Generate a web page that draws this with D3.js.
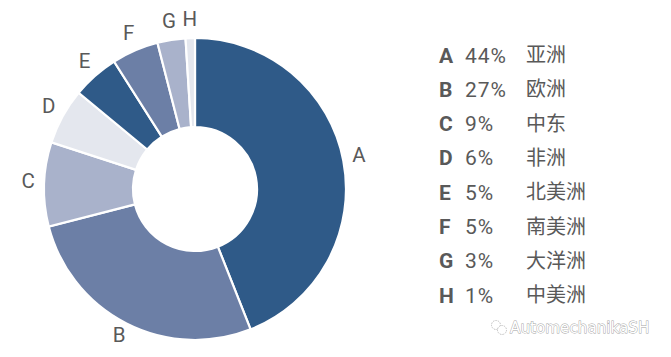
<!DOCTYPE html>
<html><head><meta charset="utf-8">
<script src="https://cdn.jsdelivr.net/npm/d3@7"></script>
<style>
html,body{margin:0;padding:0;background:#fff;}
svg{display:block;}
</style></head>
<body>
<svg id="chart" width="671" height="357"></svg>
<script>
const categories = ["A","B","C","D","E","F","G","H"];
const values = [44,27,9,6,5,5,3,1];
const percentLabels = ["44%","27%","9%","6%","5%","5%","3%","1%"];
const regionNames = ["亚洲","欧洲","中东","非洲","北美洲","南美洲","大洋洲","中美洲"];
const palette = ["#2F5A88","#6C7FA6","#A9B2CB","#E4E7EE"];
const watermark = "AutomechanikaSH";

const svg = d3.select("#chart");
const cx = 195, cy = 189, R = 151, r = 62;

const color = d3.scaleOrdinal().domain(categories).range(palette);
const pie = d3.pie().sort(null).value(d => d.v);
const data = categories.map((c,i) => ({c, v: values[i]}));
const arcs = pie(data);
const arc = d3.arc().innerRadius(r).outerRadius(R);
const labelArc = d3.arc().innerRadius(167).outerRadius(167);

const g = svg.append("g").attr("transform", `translate(${cx},${cy})`);
g.selectAll("path").data(arcs).join("path")
  .attr("d", arc)
  .attr("fill", d => color(d.data.c))
  .attr("stroke", "#fff")
  .attr("stroke-width", 2.2)
  .attr("stroke-linejoin", "miter");

g.selectAll("text.lbl").data(arcs).join("text")
  .attr("class","lbl")
  .attr("x", d => labelArc.centroid(d)[0])
  .attr("y", d => labelArc.centroid(d)[1])
  .attr("dy", "0.2em")
  .attr("text-anchor","middle")
  .attr("font-family","Roboto, 'Noto Sans', sans-serif")
  .attr("font-size", 20.5)
  .attr("fill","#595959")
  .text(d => d.data.c);

// legend
const ly = d3.scalePoint().domain(categories).range([55, 295]);
const leg = svg.append("g");
const rows = leg.selectAll("g").data(categories).join("g")
  .attr("transform", d => `translate(0,${ly(d)})`);
rows.append("text")
  .attr("x", 439).attr("dy","0.36em")
  .attr("font-family","Roboto, sans-serif").attr("font-weight","bold")
  .attr("font-size", 21).attr("fill","#595959")
  .text(d => d);
rows.append("text")
  .attr("x", 465).attr("dy","0.36em")
  .attr("font-family","Roboto, sans-serif")
  .attr("font-size", 21).attr("fill","#595959")
  .attr("letter-spacing", 1)
  .text((d,i) => percentLabels[i]);
rows.append("text")
  .attr("x", 526).attr("dy","0.36em")
  .attr("font-family","'Noto Sans CJK SC', sans-serif")
  .attr("font-size", 20).attr("fill","#595959")
  .text((d,i) => regionNames[i]);

// watermark
const wm = svg.append("g").attr("opacity", 0.9);
wm.append("circle").attr("cx",496).attr("cy",325).attr("r",4.5)
  .attr("fill","none").attr("stroke","#aaa").attr("stroke-width",0.8).attr("stroke-dasharray","1.5,1");
wm.append("circle").attr("cx",502).attr("cy",330).attr("r",4.5)
  .attr("fill","#fff").attr("stroke","#aaa").attr("stroke-width",0.8).attr("stroke-dasharray","1.5,1");
wm.append("text").attr("x",510).attr("y",333)
  .attr("font-family","'DejaVu Sans', sans-serif").attr("font-size",15.2)
  .attr("fill","#fff").attr("stroke","#9a9a9a").attr("stroke-width",0.9)
  .attr("paint-order","stroke")
  .text(watermark);
</script>
</body></html>
